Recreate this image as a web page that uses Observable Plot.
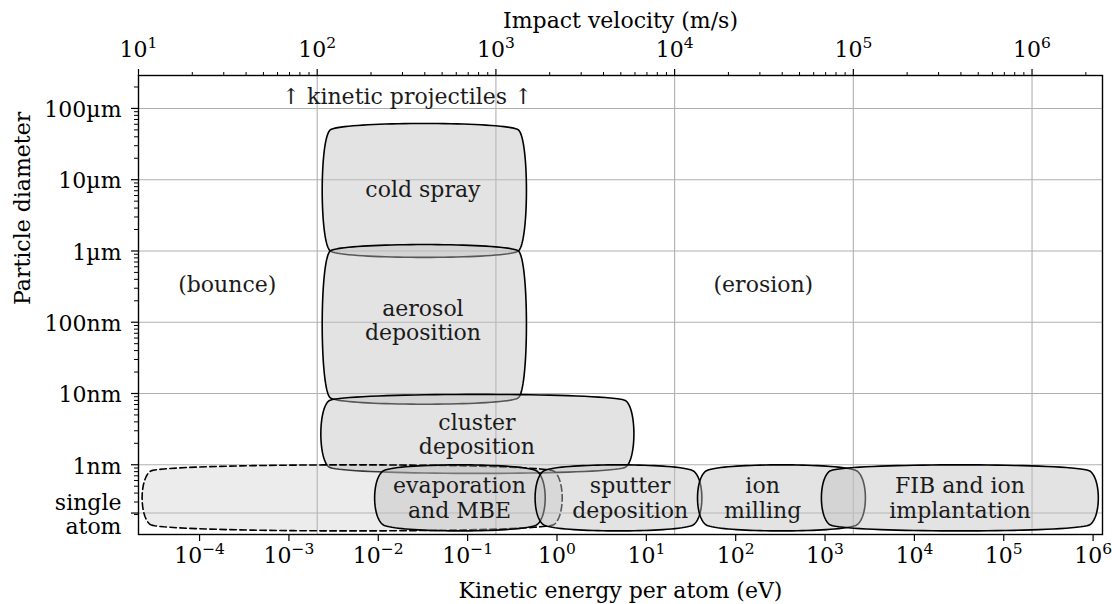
<!DOCTYPE html>
<html>
<head>
<meta charset="utf-8">
<script src="https://cdn.jsdelivr.net/npm/d3@7"></script>
<script src="https://cdn.jsdelivr.net/npm/@observablehq/plot@0.6"></script>
<style>
  html, body { margin: 0; padding: 0; background: white; }
  #chart svg, #chart svg text { font-family: "DejaVu Serif" !important; }
</style>
</head>
<body>
<div id="chart"></div>
<script>
// ---------------- data ----------------
// bottom axis: kinetic energy per atom (eV)
const energyTicks = [1e-4, 1e-3, 1e-2, 1e-1, 1e0, 1e1, 1e2, 1e3, 1e4, 1e5, 1e6];
const energyTickLabels = ["10^−4", "10^−3", "10^−2", "10^−1", "10^0", "10^1", "10^2", "10^3", "10^4", "10^5", "10^6"];
// top axis: impact velocity (m/s), for an atom of 40 u
const massAmu = 40;
const velocityTicks = [1e1, 1e2, 1e3, 1e4, 1e5, 1e6];
const velocityTickLabels = ["10^1", "10^2", "10^3", "10^4", "10^5", "10^6"];
// left axis: particle diameter (m)
const diameterTicks = [1e-4, 1e-5, 1e-6, 1e-7, 1e-8, 1e-9, 2.1e-10];
const diameterTickLabels = ["100µm", "10µm", "1µm", "100nm", "10nm", "1nm", "single\natom"];

// process regions (corner boxes): energy range (eV) and diameter range (m)
const regionNames = ["cold spray", "aerosol deposition", "cluster deposition", "single atom",
  "evaporation and MBE", "sputter deposition", "ion milling", "FIB and ion implantation"];
const regionEmin = [2.9e-3, 2.9e-3, 2.8e-3, 2.8e-5, 0.0112, 0.70, 46, 1120];
const regionEmax = [0.37, 0.37, 5.9, 0.93, 0.60, 34, 2300, 9.3e5];
const regionDmin = [1.0e-6, 8.7e-9, 9.3e-10, 1.45e-10, 1.45e-10, 1.45e-10, 1.45e-10, 1.45e-10];
const regionDmax = [5.0e-5, 1.0e-6, 7.9e-9, 8.1e-10, 8.1e-10, 8.1e-10, 8.1e-10, 8.1e-10];
const regionDashed = [false, false, false, true, false, false, false, false];

// region labels
const labelTexts = ["cold spray", "aerosol\ndeposition", "cluster\ndeposition", "evaporation\nand MBE",
  "sputter\ndeposition", "ion\nmilling", "FIB and ion\nimplantation"];
const labelE = [0.0316, 0.0316, 0.127, 0.081, 6.6, 200, 32400];
const labelD = [7.26e-6, 1.06e-7, 2.68e-9, 3.44e-10, 3.44e-10, 3.44e-10, 3.44e-10];

// annotations
const noteTexts = ["↑ kinetic projectiles ↑", "(bounce)", "(erosion)"];
const noteE = [0.021, 2.04e-4, 204];
const noteD = [1.43e-4, 3.3e-7, 3.3e-7];

// ---------------- helpers ----------------
const AMU = 1.66054e-27, EV = 1.602177e-19;
const vToE = v => 0.5 * massAmu * AMU * v * v / EV;

const velocityMinor = [];
for (let k = 1; k <= 6; k++) for (let m = 2; m <= 9; m++) {
  const v = m * Math.pow(10, k);
  if (v <= 2.4e6) velocityMinor.push(v);
}
const diameterMinor = [];
for (let k = -10; k <= -4; k++) for (let m = 2; m <= 9; m++) {
  const d = m * Math.pow(10, k);
  if (d >= 1.05e-10 && d <= 2.9e-4) diameterMinor.push(d);
}

// "round4" style box, built in log space, sampled into data points
function round4(eMin, eMax, dMin, dMax, dr = 0.12, n = 40) {
  const x0 = Math.log10(eMin), x1 = Math.log10(eMax);
  const y0 = Math.log10(dMin), y1 = Math.log10(dMax);
  const segs = [
    [[x0, y0], [x0 + dr, y0 - dr], [x1 - dr, y0 - dr], [x1, y0]],
    [[x1, y0], [x1 + dr, y0 + dr], [x1 + dr, y1 - dr], [x1, y1]],
    [[x1, y1], [x1 - dr, y1 + dr], [x0 + dr, y1 + dr], [x0, y1]],
    [[x0, y1], [x0 - dr, y1 - dr], [x0 - dr, y0 + dr], [x0, y0]]
  ];
  const pts = [];
  for (const [p0, p1, p2, p3] of segs) {
    for (let i = 0; i < n; i++) {
      const t = i / n, u = 1 - t;
      const a = u * u * u, b = 3 * u * u * t, c = 3 * u * t * t, d = t * t * t;
      const lx = a * p0[0] + b * p1[0] + c * p2[0] + d * p3[0];
      const ly = a * p0[1] + b * p1[1] + c * p2[1] + d * p3[1];
      pts.push({E: Math.pow(10, lx), D: Math.pow(10, ly)});
    }
  }
  return pts;
}

const eLabel = new Map(energyTicks.map((t, i) => [t, energyTickLabels[i]]));
const vLabel = new Map(velocityTicks.map((v, i) => [vToE(v), velocityTickLabels[i]]));

const shapeMarks = regionNames.map((name, i) => Plot.line(
  round4(regionEmin[i], regionEmax[i], regionDmin[i], regionDmax[i]),
  {
    x: "E", y: "D", curve: "linear-closed",
    fill: "#c0c0c0", fillOpacity: regionDashed[i] ? 0.3 : 0.45,
    stroke: "black", strokeWidth: 1.6,
    strokeDasharray: regionDashed[i] ? "6.5,3.5" : null
  }
));

const FONT = "DejaVu Serif";
const FS = 22;
const chart = Plot.plot({
  width: 1112,
  height: 604,
  marginLeft: 138,
  marginRight: 10,
  marginTop: 75,
  marginBottom: 70,
  style: `font-family: "DejaVu Serif"; font-size: ${FS}px; background: white; color: black;`,
  x: {type: "log", domain: [vToE(10), 1.274e6], label: null},
  y: {type: "log", domain: [1.05e-10, 2.9e-4], label: null},
  marks: [
    Plot.gridX({ticks: velocityTicks.slice(1).map(vToE), stroke: "#b0b0b0", strokeOpacity: 1, strokeWidth: 1.1}),
    Plot.gridY({ticks: diameterTicks, stroke: "#b0b0b0", strokeOpacity: 1, strokeWidth: 1.1}),
    ...shapeMarks,
    Plot.text(labelTexts, {x: labelE, y: labelD, text: labelTexts, fontSize: FS, fontFamily: FONT, lineHeight: 1.1, fill: "#1a1a1a"}),
    Plot.text(noteTexts, {x: noteE, y: noteD, text: noteTexts, fontSize: FS, fontFamily: FONT, fill: "#1a1a1a"}),
    // axes
    Plot.axisX({anchor: "bottom", ticks: energyTicks, tickSize: 7, tickPadding: 6, tickFormat: d => eLabel.get(d), label: null, strokeWidth: 1.2, fontSize: FS, fontFamily: FONT}),
    Plot.axisX({anchor: "top", ticks: velocityTicks.map(vToE), tickSize: 7, tickPadding: 12, tickFormat: d => vLabel.get(d), label: null, strokeWidth: 1.2, fontSize: FS, fontFamily: FONT}),
    Plot.axisX({anchor: "top", ticks: velocityMinor.map(vToE), tickSize: 4, tickFormat: () => "", label: null, strokeWidth: 1}),
    Plot.axisY({anchor: "left", ticks: diameterTicks, tickSize: 7, tickFormat: () => "", label: null, strokeWidth: 1.2}),
    Plot.axisY({anchor: "left", ticks: diameterMinor, tickSize: 4, tickFormat: () => "", label: null, strokeWidth: 1}),
    Plot.text(diameterTickLabels, {y: diameterTicks, text: diameterTickLabels, frameAnchor: "left", dx: -17, dy: 1, textAnchor: "end", lineHeight: 1.1, fontSize: FS, fontFamily: FONT}),
    Plot.frame({stroke: "black", strokeWidth: 1.4}),
    // axis titles
    Plot.text(["Impact velocity (m/s)"], {frameAnchor: "top", dy: -63, fontSize: FS, fontFamily: FONT}),
    Plot.text(["Kinetic energy per atom (eV)"], {frameAnchor: "bottom", dy: 63, fontSize: FS, fontFamily: FONT}),
    Plot.text(["Particle diameter"], {frameAnchor: "left", dx: -116, rotate: -90, fontSize: FS, fontFamily: FONT})
  ]
});

// render "10^k" tick labels with a raised, smaller exponent
const SVGNS = "http://www.w3.org/2000/svg";
chart.querySelectorAll("text").forEach(t => {
  if (t.children.length) return;
  const m = /^10\^(.+)$/.exec(t.textContent);
  if (!m) return;
  t.textContent = "10";
  const ts = document.createElementNS(SVGNS, "tspan");
  ts.setAttribute("dy", "-9");
  ts.setAttribute("font-size", "15.5");
  ts.textContent = m[1];
  t.appendChild(ts);
});
document.getElementById("chart").appendChild(chart);
</script>
</body>
</html>
